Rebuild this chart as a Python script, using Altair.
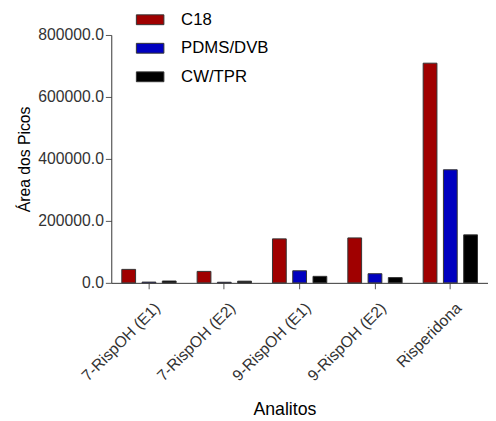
import altair as alt
import pandas as pd

categories = ["7-RispOH (E1)", "7-RispOH (E2)", "9-RispOH (E1)", "9-RispOH (E2)", "Risperidona"]
series = ["C18", "PDMS/DVB", "CW/TPR"]
c18 = [43500, 37000, 142000, 145000, 709000]
pdms_dvb = [2500, 2000, 39000, 29500, 365000]
cw_tpr = [6000, 5500, 21000, 17000, 155000]
colors = ["#A00000", "#0000C0", "#000000"]
y_ticks = [0, 200000, 400000, 600000, 800000]

rows = []
for name, vals in zip(series, [c18, pdms_dvb, cw_tpr]):
    for cat, v in zip(categories, vals):
        rows.append({"Analito": cat, "Fibra": name, "Area": v})
df = pd.DataFrame(rows)

FONT = "Liberation Sans"

bars = alt.Chart(df).mark_bar(stroke="#333333", strokeWidth=1).encode(
    x=alt.X("Analito:N", sort=categories,
            scale=alt.Scale(paddingInner=0.193, paddingOuter=0.0966),
            axis=alt.Axis(title="Analitos", labelAngle=-45, labelAlign="right",
                          labelBaseline="top", labelOffset=3, labelPadding=11,
                          labelFontSize=16,
                          titleX=176, titleY=134, titleFontSize=18,
                          titleBaseline="alphabetic", titleAnchor="start",
                          titleAlign="center")),
    xOffset=alt.XOffset("Fibra:N", sort=series,
                        scale=alt.Scale(domain=series, paddingInner=0.32, paddingOuter=0.16)),
    y=alt.Y("Area:Q", scale=alt.Scale(domain=[0, 800000], nice=False),
            axis=alt.Axis(title="Área dos Picos", values=y_ticks, format=".1f",
                          labelFontSize=16, titleFontSize=16, titlePadding=5)),
    color=alt.Color("Fibra:N", sort=series,
                    scale=alt.Scale(domain=series, range=colors),
                    legend=alt.Legend(title=None, orient="none", legendX=25, legendY=-30,
                                      symbolType="M-1,-0.357L1,-0.357L1,0.357L-1,0.357Z",
                                      symbolSize=784, symbolStrokeColor="#333333",
                                      symbolStrokeWidth=1, symbolOpacity=1,
                                      labelOffset=17, rowPadding=6, padding=0,
                                      labelFont=FONT, labelFontSize=17,
                                      labelColor="#000000")),
).properties(
    width=383, height=252,
    autosize=alt.AutoSizeParams(type="none"),
    padding={"left": 105, "top": 24, "right": 0, "bottom": 137},
)

chart = bars.configure_view(stroke=None).configure_axis(
    labelFont=FONT, titleFont=FONT,
    titleFontWeight="normal", labelColor="#333333", titleColor="#000000",
    domainColor="#333333", tickColor="#555555", tickSize=6, grid=False,
)

chart.save("out.html", embed_options={"renderer": "svg", "actions": False})
